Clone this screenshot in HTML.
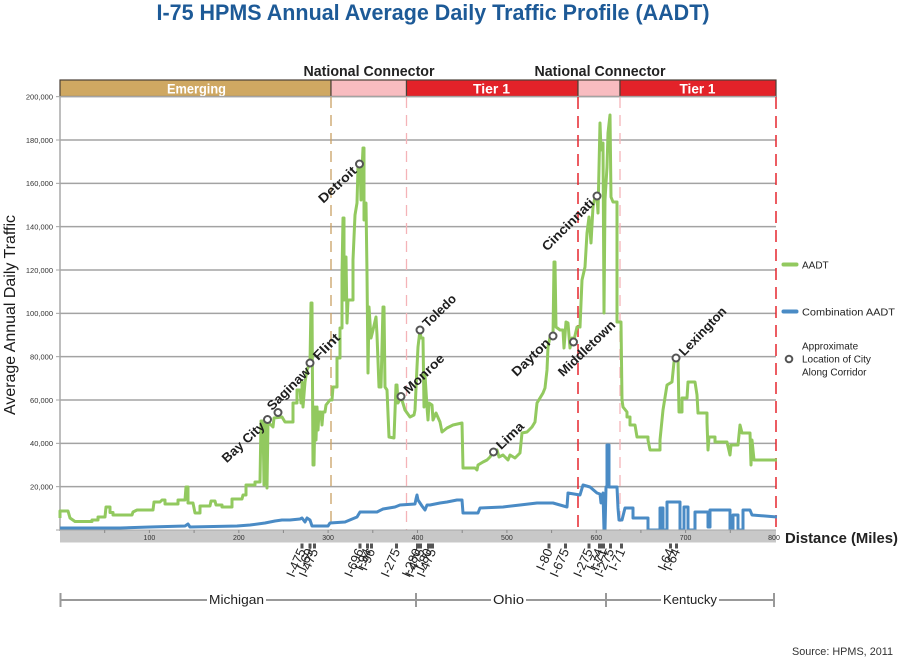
<!DOCTYPE html>
<html><head><meta charset="utf-8"><style>
html,body{margin:0;padding:0;background:#fff;}
svg{display:block;font-family:"Liberation Sans",Arial,sans-serif;}
</style></head><body>
<svg width="900" height="659" viewBox="0 0 900 659" xmlns="http://www.w3.org/2000/svg">
<rect width="900" height="659" fill="#fff"/>
<!-- Title -->
<text x="433" y="20" font-size="22" font-weight="bold" fill="#1d5a97" text-anchor="middle" textLength="553" lengthAdjust="spacingAndGlyphs">I-75 HPMS Annual Average Daily Traffic Profile (AADT)</text>
<!-- National connector labels -->
<text x="369" y="76" font-size="15" font-weight="bold" fill="#222" text-anchor="middle" textLength="131" lengthAdjust="spacingAndGlyphs">National Connector</text>
<text x="600" y="76" font-size="15" font-weight="bold" fill="#222" text-anchor="middle" textLength="131" lengthAdjust="spacingAndGlyphs">National Connector</text>
<!-- Band -->
<rect x="60" y="80" width="271" height="16.5" fill="#cfa862" stroke="#4a4038" stroke-width="1.2"/>
<rect x="331" y="80" width="75.5" height="16.5" fill="#f8bcc0" stroke="#4a4038" stroke-width="1.2"/>
<rect x="406.5" y="80" width="171.5" height="16.5" fill="#e32229" stroke="#4a4038" stroke-width="1.2"/>
<rect x="578" y="80" width="42" height="16.5" fill="#f8bcc0" stroke="#4a4038" stroke-width="1.2"/>
<rect x="620" y="80" width="156" height="16.5" fill="#e32229" stroke="#4a4038" stroke-width="1.2"/>
<text x="196.5" y="93.5" font-size="14" font-weight="bold" fill="#fff" text-anchor="middle" textLength="59" lengthAdjust="spacingAndGlyphs">Emerging</text>
<text x="491.5" y="93.5" font-size="14" font-weight="bold" fill="#fff" text-anchor="middle" textLength="37" lengthAdjust="spacingAndGlyphs">Tier 1</text>
<text x="697.5" y="93.5" font-size="14" font-weight="bold" fill="#fff" text-anchor="middle" textLength="36" lengthAdjust="spacingAndGlyphs">Tier 1</text>
<!-- Gridlines -->
<g stroke="#a3a3a3" stroke-width="1.5">
<line x1="60" y1="486.67" x2="776" y2="486.67"/>
<line x1="60" y1="443.33" x2="776" y2="443.33"/>
<line x1="60" y1="400" x2="776" y2="400"/>
<line x1="60" y1="356.67" x2="776" y2="356.67"/>
<line x1="60" y1="313.33" x2="776" y2="313.33"/>
<line x1="60" y1="270" x2="776" y2="270"/>
<line x1="60" y1="226.67" x2="776" y2="226.67"/>
<line x1="60" y1="183.33" x2="776" y2="183.33"/>
<line x1="60" y1="140" x2="776" y2="140"/>
<line x1="60" y1="96.67" x2="776" y2="96.67"/>
</g>
<g stroke="#a3a3a3" stroke-width="1">
<line x1="56" y1="530" x2="60" y2="530"/>
<line x1="56" y1="486.67" x2="60" y2="486.67"/>
<line x1="56" y1="443.33" x2="60" y2="443.33"/>
<line x1="56" y1="400" x2="60" y2="400"/>
<line x1="56" y1="356.67" x2="60" y2="356.67"/>
<line x1="56" y1="313.33" x2="60" y2="313.33"/>
<line x1="56" y1="270" x2="60" y2="270"/>
<line x1="56" y1="226.67" x2="60" y2="226.67"/>
<line x1="56" y1="183.33" x2="60" y2="183.33"/>
<line x1="56" y1="140" x2="60" y2="140"/>
<line x1="56" y1="96.67" x2="60" y2="96.67"/>
</g>
<line x1="60" y1="96" x2="60" y2="531" stroke="#a8a8a8" stroke-width="1.5"/>
<!-- Y labels -->
<g font-size="7.5" fill="#333" text-anchor="end">
<text x="53" y="489.5">20,000</text>
<text x="53" y="446">40,000</text>
<text x="53" y="403">60,000</text>
<text x="53" y="359.5">80,000</text>
<text x="53" y="316">100,000</text>
<text x="53" y="273">120,000</text>
<text x="53" y="229.5">140,000</text>
<text x="53" y="186">160,000</text>
<text x="53" y="143">180,000</text>
<text x="53" y="99.5">200,000</text>
</g>
<text transform="translate(15,315) rotate(-90)" font-size="16" fill="#1a1a1a" text-anchor="middle" textLength="200" lengthAdjust="spacingAndGlyphs">Average Annual Daily Traffic</text>
<!-- Dashed vertical lines -->
<line x1="331" y1="97" x2="331" y2="530" stroke="#c9a064" stroke-width="1.3" stroke-dasharray="11,7"/>
<line x1="406.5" y1="97" x2="406.5" y2="530" stroke="#f4b3b8" stroke-width="1.3" stroke-dasharray="11,7"/>
<line x1="578" y1="97" x2="578" y2="530" stroke="#e6262e" stroke-width="1.5" stroke-dasharray="12,7"/>
<line x1="620" y1="97" x2="620" y2="530" stroke="#f4b3b8" stroke-width="1.3" stroke-dasharray="11,7"/>
<line x1="776" y1="97" x2="776" y2="530" stroke="#e6262e" stroke-width="1.5" stroke-dasharray="12,7"/>
<!-- Green AADT -->
<path fill="none" stroke="#92c95f" stroke-width="3" stroke-linejoin="round" d="M60,518 L60,511 L68,511 L70,518 L75,521.5 L92,521.5 L92,520 L98,520 L98,517 L105,517 L106,507 L110,507 L110,512.5 L113,512.5 L113,515 L132,515 L133,512 L137,510 L153,510 L154,502 L160,502 L162,500 L165,500 L165,504 L178,504 L178,500 L185,500 L186,487 L188,487 L188,503 L193,503 L195,513 L200,513 L200,506 L210,506 L211,501 L215,501 L216,505 L222,505 L222,507 L232,507 L232,499 L242,499 L243,495 L246,495 L246,485 L255,485 L255,482 L260,482 L261,421 L263,421 L264,485 L265,422 L267,422 L267,488 L268,422 L270,424 L273,427 L274,418 L282,417 L285,422 L293,422 L293,403 L297,403 L297,390 L300,390 L301,403 L302,403 L302,382 L303,407 L305,382 L307,370 L310,363 L311,303 L312,303 L313,465 L314,465 L315,407 L316,440 L317,407 L318,430 L319,412 L321,412 L322,425 L323,412 L325,412 L326,405 L330,400 L332,400 L333,387 L337,387 L337,358 L340,358 L340,328 L342,328 L342,275 L343,218 L344,218 L344,300 L346,257 L347,323 L348,300 L353,300 L353,260 L355,215 L357,203 L358,167 L360,163 L361,200 L362,170 L363,148 L364,148 L364,220 L366,203 L367,273 L368,373 L369,307 L371,338 L373,330 L376,317 L377,335 L379,387 L381,387 L383,307 L384,307 L385,387 L387,390 L389,437 L394,438 L396,385 L397,385 L398,403 L401,397 L405,410 L410,417 L414,415 L415,410 L417,367 L418,347 L420,330 L421,338 L423,338 L424,407 L425,375 L427,407 L428,420 L429,403 L432,405 L433,420 L436,413 L440,422 L442,432 L447,428 L453,425 L462,423 L463,468 L475,468 L477,470 L478,465 L483,462 L487,460 L490,457 L493,452 L497,450 L499,457 L503,455 L508,460 L510,455 L515,458 L520,453 L522,433 L527,432 L532,427 L535,422 L537,403 L543,393 L545,388 L547,370 L548,347 L550,337 L553,336 L554,262 L555,262 L556,327 L560,330 L563,330 L564,348 L566,322 L568,323 L570,348 L572,338 L574,340 L577,327 L580,327 L582,280 L585,267 L587,233 L589,217 L591,243 L593,207 L595,197 L597,196 L598,213 L600,123 L601,150 L603,143 L604,313 L605,200 L607,167 L608,133 L610,115 L611,197 L613,202 L617,202 L617,322 L621,322 L622,400 L623,407 L627,412 L627,417 L630,417 L630,425 L635,425 L637,437 L648,437 L648,440 L650,450 L660,450 L660,440 L663,410 L667,385 L672,382 L674,362 L678,358 L679,412 L682,412 L682,398 L687,398 L688,382 L695,382 L697,395 L698,413 L707,413 L707,422 L708,450 L709,437 L715,437 L715,442 L727,442 L730,455 L731,445 L738,445 L740,425 L742,433 L750,433 L751,465 L752,440 L754,460 L777,460"/>
<!-- Blue Combination AADT -->
<path fill="none" stroke="#4a8bc5" stroke-width="3" stroke-linejoin="round" d="M60,528 L120,528 L150,527 L185,526 L188,524 L190,527 L237,526 L250,525 L265,523 L275,521 L282,520 L290,520 L300,519 L302,518 L305,522 L307,518 L310,520 L312,526 L328,526 L330,523 L345,522 L357,517 L360,512 L377,512 L383,509 L395,507 L400,505 L415,504 L416,499 L417,495 L418,500 L420,503 L422,506 L425,510 L427,505 L430,505 L440,503 L447,502 L457,500 L462,500 L463,513 L478,513 L480,508 L503,507 L520,505 L537,503 L553,503 L560,505 L567,507 L568,493 L580,495 L583,485 L590,487 L597,493 L600,494 L601,503 L603,493 L604,530 L605,530 L606,487 L607,487 L607,445 L609,445 L609,487 L617,487 L618,508 L619,520 L622,520 L625,508 L633,508 L633,518 L648,518 L648,530 L660,530 L660,508 L663,508 L663,530 L667,530 L667,502 L680,502 L680,530 L684,530 L684,507 L688,507 L688,530 L695,530 L695,512 L708,512 L708,527 L710,527 L710,510 L730,510 L730,530 L733,530 L733,515 L738,515 L738,530 L743,530 L743,510 L750,510 L752,515 L777,517"/>
<!-- X axis band -->
<rect x="60" y="530.5" width="716" height="12" fill="#c8c8c8"/>
<line x1="58" y1="530" x2="776" y2="530" stroke="#a8a8a8" stroke-width="1"/>
<g stroke="#888" stroke-width="1">
<line x1="104.7" y1="530" x2="104.7" y2="533"/><line x1="149.4" y1="530" x2="149.4" y2="533"/>
<line x1="194.1" y1="530" x2="194.1" y2="533"/><line x1="238.8" y1="530" x2="238.8" y2="533"/>
<line x1="283.4" y1="530" x2="283.4" y2="533"/><line x1="328.1" y1="530" x2="328.1" y2="533"/>
<line x1="372.8" y1="530" x2="372.8" y2="533"/><line x1="417.5" y1="530" x2="417.5" y2="533"/>
<line x1="462.2" y1="530" x2="462.2" y2="533"/><line x1="506.9" y1="530" x2="506.9" y2="533"/>
<line x1="551.6" y1="530" x2="551.6" y2="533"/><line x1="596.3" y1="530" x2="596.3" y2="533"/>
<line x1="640.9" y1="530" x2="640.9" y2="533"/><line x1="685.6" y1="530" x2="685.6" y2="533"/>
<line x1="730.3" y1="530" x2="730.3" y2="533"/>
</g>
<g font-size="7" fill="#333" text-anchor="middle">
<text x="149.4" y="540">100</text><text x="238.8" y="540">200</text><text x="328.1" y="540">300</text>
<text x="417.5" y="540">400</text><text x="506.9" y="540">500</text><text x="596.3" y="540">600</text>
<text x="685.6" y="540">700</text><text x="774" y="540">800</text>
</g>
<text x="785" y="543" font-size="15" font-weight="bold" fill="#222" textLength="113" lengthAdjust="spacingAndGlyphs">Distance (Miles)</text>
<!-- Interchange markers -->
<g fill="#555">
<rect x="300.5" y="543.5" width="3" height="5"/><rect x="308.5" y="543.5" width="3" height="5"/><rect x="313" y="543.5" width="3" height="5"/>
<rect x="358.5" y="543.5" width="3" height="5"/><rect x="366" y="543.5" width="3" height="5"/><rect x="370" y="543.5" width="3" height="5"/>
<rect x="395" y="543.5" width="3" height="5"/>
<rect x="416" y="543.5" width="6" height="5"/><rect x="427" y="543.5" width="7" height="5"/>
<rect x="547.5" y="543.5" width="3" height="5"/><rect x="564" y="543.5" width="3" height="5"/><rect x="587.5" y="543.5" width="3" height="5"/>
<rect x="598" y="543.5" width="7" height="5"/><rect x="609" y="543.5" width="3" height="5"/><rect x="620" y="543.5" width="3" height="5"/>
<rect x="669" y="543.5" width="3" height="5"/><rect x="675" y="543.5" width="3" height="5"/>
</g>
<g font-size="13" fill="#222" text-anchor="end">
<text transform="translate(306,551) rotate(-66)">I-475</text>
<text transform="translate(314,551) rotate(-66)">I-69</text>
<text transform="translate(318.5,551) rotate(-66)">I-475</text>
<text transform="translate(364,551) rotate(-66)">I-696</text>
<text transform="translate(371.5,551) rotate(-66)">I-94</text>
<text transform="translate(375.5,551) rotate(-66)">I-96</text>
<text transform="translate(400.5,551) rotate(-66)">I-275</text>
<text transform="translate(421.5,551) rotate(-66)">I-280</text>
<text transform="translate(425,551) rotate(-66)">I-475</text>
<text transform="translate(432.5,551) rotate(-66)">I-80</text>
<text transform="translate(436.5,551) rotate(-66)">I-475</text>
<text transform="translate(553,551) rotate(-66)">I-80</text>
<text transform="translate(569.5,551) rotate(-66)">I-675</text>
<text transform="translate(593,551) rotate(-66)">I-275</text>
<text transform="translate(603.5,551) rotate(-66)">I-74</text>
<text transform="translate(607.5,551) rotate(-66)">I-71</text>
<text transform="translate(614.5,551) rotate(-66)">I-275</text>
<text transform="translate(625.5,551) rotate(-66)">I-71</text>
<text transform="translate(674.5,551) rotate(-66)">I-64</text>
<text transform="translate(680.5,551) rotate(-66)">I-64</text>
</g>
<!-- State brackets -->
<g stroke="#999" stroke-width="2">
<line x1="60.5" y1="600" x2="774" y2="600"/>
<line x1="60.5" y1="593" x2="60.5" y2="607"/>
<line x1="416" y1="593" x2="416" y2="607"/>
<line x1="606" y1="593" x2="606" y2="607"/>
<line x1="774" y1="593" x2="774" y2="607"/>
</g>
<rect x="207" y="593" width="59" height="14" fill="#fff"/>
<rect x="491" y="593" width="35" height="14" fill="#fff"/>
<rect x="661" y="593" width="58" height="14" fill="#fff"/>
<g font-size="12.5" fill="#222" text-anchor="middle">
<text x="236.5" y="604" textLength="55" lengthAdjust="spacingAndGlyphs">Michigan</text>
<text x="508.5" y="604" textLength="31" lengthAdjust="spacingAndGlyphs">Ohio</text>
<text x="690" y="604" textLength="54" lengthAdjust="spacingAndGlyphs">Kentucky</text>
</g>
<text x="893" y="655" font-size="11" fill="#333" text-anchor="end" textLength="101" lengthAdjust="spacingAndGlyphs">Source: HPMS, 2011</text>
<!-- City markers -->
<g fill="#fff" stroke="#555" stroke-width="2">
<circle cx="267.5" cy="419.5" r="3.5"/>
<circle cx="278" cy="412.5" r="3.5"/>
<circle cx="310" cy="363" r="3.5"/>
<circle cx="359.5" cy="164" r="3.5"/>
<circle cx="401" cy="396.5" r="3.5"/>
<circle cx="420" cy="330" r="3.5"/>
<circle cx="493.5" cy="452" r="3.5"/>
<circle cx="553" cy="336" r="3.5"/>
<circle cx="573.5" cy="342" r="3.5"/>
<circle cx="597" cy="196" r="3.5"/>
<circle cx="676" cy="358" r="3.5"/>
</g>
<!-- City labels -->
<g font-size="13" font-weight="bold" fill="#1e1e1e" dominant-baseline="central">
<text text-anchor="end" transform="translate(262.5,424) rotate(-43)" textLength="53" lengthAdjust="spacingAndGlyphs">Bay City</text>
<text text-anchor="start" transform="translate(269,408) rotate(-45)" textLength="55" lengthAdjust="spacingAndGlyphs">Saginaw</text>
<text text-anchor="start" transform="translate(315,358) rotate(-45)" textLength="32" lengthAdjust="spacingAndGlyphs">Flint</text>
<text text-anchor="end" transform="translate(354.5,168.5) rotate(-43)" textLength="47" lengthAdjust="spacingAndGlyphs">Detroit</text>
<text text-anchor="start" transform="translate(405.5,391.5) rotate(-44)" textLength="51" lengthAdjust="spacingAndGlyphs">Monroe</text>
<text text-anchor="start" transform="translate(424.5,325) rotate(-44)" textLength="41" lengthAdjust="spacingAndGlyphs">Toledo</text>
<text text-anchor="start" transform="translate(498,447) rotate(-44)" textLength="33" lengthAdjust="spacingAndGlyphs">Lima</text>
<text text-anchor="end" transform="translate(548,340.5) rotate(-44)" textLength="48" lengthAdjust="spacingAndGlyphs">Dayton</text>
<text text-anchor="start" transform="translate(560,374) rotate(-44)" textLength="74" lengthAdjust="spacingAndGlyphs">Middletown</text>
<text text-anchor="end" transform="translate(592,200.5) rotate(-45)" textLength="68" lengthAdjust="spacingAndGlyphs">Cincinnati</text>
<text text-anchor="start" transform="translate(681,353.5) rotate(-46)" textLength="62" lengthAdjust="spacingAndGlyphs">Lexington</text>
</g>
<!-- Legend -->
<line x1="783.5" y1="264.5" x2="796.5" y2="264.5" stroke="#92c95f" stroke-width="4" stroke-linecap="round"/>
<text x="802" y="268.5" font-size="10" fill="#222">AADT</text>
<line x1="783.5" y1="311.5" x2="796.5" y2="311.5" stroke="#4a8bc5" stroke-width="4" stroke-linecap="round"/>
<text x="802" y="315.5" font-size="10" fill="#222" textLength="93" lengthAdjust="spacingAndGlyphs">Combination AADT</text>
<circle cx="789" cy="359" r="3.3" fill="#fff" stroke="#555" stroke-width="2"/>
<g font-size="10" fill="#222">
<text x="802" y="349.5">Approximate</text>
<text x="802" y="362.5">Location of City</text>
<text x="802" y="375.5">Along Corridor</text>
</g>
</svg>
</body></html>
